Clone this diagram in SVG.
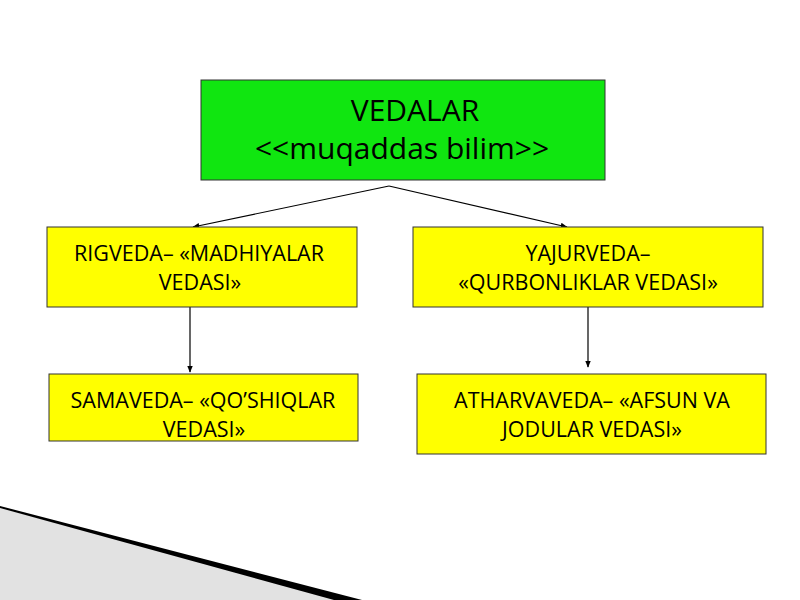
<svg xmlns="http://www.w3.org/2000/svg" width="800" height="600" viewBox="0 0 800 600">
<defs>
<style>
.box{stroke:#333;stroke-width:1}
.green{fill:#10e610}
.yellow{fill:#ffff00}
.t{font-family:"Open Sans","Noto Sans","DejaVu Sans",sans-serif;fill:#000;text-anchor:middle}
.tb{font-size:21.5px}
.th{font-size:30px}
.conn{stroke:#000;stroke-width:1.2;fill:none;marker-end:url(#ah)}
</style>
<marker id="ah" viewBox="0 0 10 10" refX="9" refY="5" markerWidth="7" markerHeight="7" orient="auto" markerUnits="userSpaceOnUse">
<path d="M0,1 L10,5 L0,9 Z" fill="#000"/>
</marker>
</defs>
<rect width="800" height="600" fill="#fff"/>
<g id="decor">
<polygon points="0,508 345,600 0,600" fill="#e2e2e2"/>
<polygon points="0,506 362,600 334,600 0,508" fill="#000"/>
</g>
<g id="connectors">
<line class="conn" x1="389" y1="186" x2="193" y2="227"/>
<line class="conn" x1="389" y1="186" x2="567" y2="227"/>
<line class="conn" x1="190" y1="307" x2="190" y2="372"/>
<line class="conn" x1="588" y1="307" x2="588" y2="367"/>
</g>
<g id="vedalar">
<rect class="box green" x="201" y="80" width="404" height="100"/>
<text class="t th" x="415" y="121">VEDALAR</text>
<text class="t th" x="402" y="159">&lt;&lt;muqaddas bilim&gt;&gt;</text>
</g>
<g id="rigveda">
<rect class="box yellow" x="47" y="227" width="310" height="80"/>
<text class="t tb" x="199" y="261">RIGVEDA– «MADHIYALAR</text>
<text class="t tb" x="200" y="290">VEDASI»</text>
</g>
<g id="yajurveda">
<rect class="box yellow" x="413" y="227" width="350" height="80"/>
<text class="t tb" x="588" y="261">YAJURVEDA–</text>
<text class="t tb" x="588" y="290">«QURBONLIKLAR VEDASI»</text>
</g>
<g id="samaveda">
<rect class="box yellow" x="49" y="374" width="309" height="67"/>
<text class="t tb" x="203" y="408">SAMAVEDA– «QO’SHIQLAR</text>
<text class="t tb" x="204" y="437">VEDASI»</text>
</g>
<g id="atharvaveda">
<rect class="box yellow" x="417" y="374" width="349" height="80"/>
<text class="t tb" x="592" y="408">ATHARVAVEDA– «AFSUN VA</text>
<text class="t tb" x="592" y="437">JODULAR VEDASI»</text>
</g>
</svg>
